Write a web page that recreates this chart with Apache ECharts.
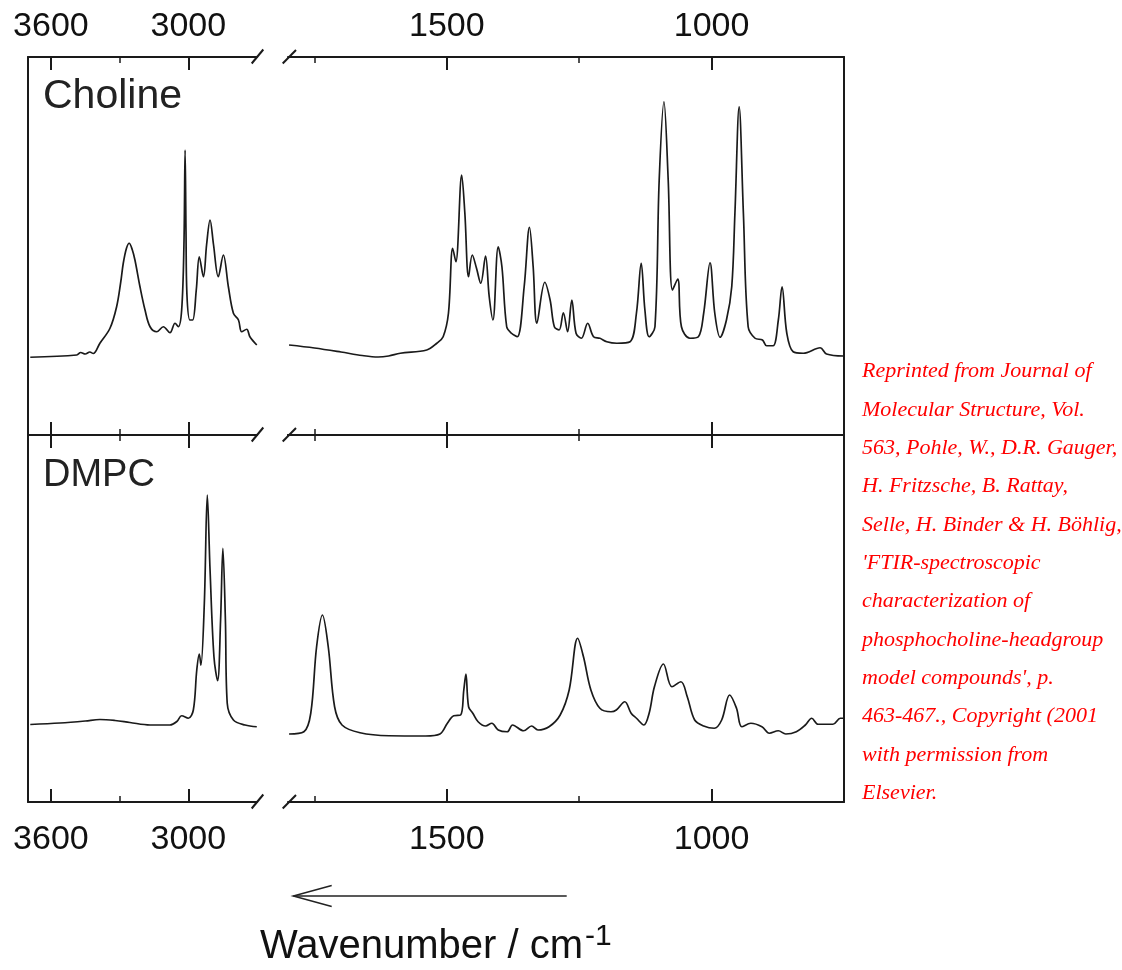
<!DOCTYPE html>
<html>
<head>
<meta charset="utf-8">
<script src="https://cdn.jsdelivr.net/npm/echarts@6/dist/echarts.min.js"></script>
<style>
html,body{margin:0;padding:0;background:#fff;}
#chart{width:1122px;height:970px;}
</style>
</head>
<body>
<div id="chart"></div>
<script>
// ---- Data (wavenumber cm-1, absorbance in arbitrary units) ----
const cholineHigh = [
  [3690,-0.001],[3487,0.008],[3470,0.018],[3450,0.012],[3430,0.02],[3415,0.014],[3386,0.055],
  [3342,0.115],[3313,0.201],[3295,0.3],[3284,0.375],[3270,0.435],[3258,0.455],[3245,0.43],
  [3233,0.388],[3211,0.281],[3189,0.188],[3167,0.121],[3138,0.101],[3109,0.121],[3080,0.097],
  [3058,0.135],[3044,0.121],[3029,0.188],[3019,0.45],[3014,0.828],[3010,0.5],[3006,0.25],
  [2993,0.148],[2981,0.148],[2965,0.27],[2952,0.401],[2934,0.321],[2920,0.45],[2905,0.548],
  [2890,0.45],[2869,0.321],[2847,0.408],[2825,0.281],[2803,0.175],[2781,0.148],[2767,0.101],
  [2745,0.111],[2731,0.081],[2701,0.048]
];
const cholineLow = [
  [1798,0.048],[1750,0.036],[1700,0.02],[1660,0.006],[1630,0.0],[1610,0.004],[1588,0.015],
  [1538,0.028],[1519,0.055],[1507,0.081],[1497,0.175],[1489,0.435],[1483,0.381],[1472,0.728],
  [1466,0.575],[1459,0.321],[1452,0.408],[1444,0.355],[1436,0.295],[1427,0.404],[1420,0.241],
  [1413,0.148],[1403,0.441],[1396,0.361],[1387,0.121],[1378,0.095],[1367,0.081],[1354,0.281],
  [1344,0.519],[1337,0.361],[1330,0.135],[1315,0.299],[1305,0.228],[1297,0.121],[1288,0.108],
  [1280,0.177],[1272,0.101],[1264,0.228],[1256,0.095],[1246,0.075],[1234,0.135],[1223,0.081],
  [1211,0.075],[1198,0.061],[1179,0.055],[1154,0.061],[1142,0.175],[1133,0.375],[1126,0.188],
  [1118,0.081],[1107,0.121],[1099,0.708],[1090,1.021],[1082,0.708],[1074,0.268],[1064,0.312],
  [1057,0.121],[1041,0.075],[1025,0.081],[1015,0.175],[1003,0.377],[994,0.175],[984,0.079],
  [972,0.148],[962,0.281],[956,0.575],[948,1.001],[940,0.575],[931,0.121],[918,0.075],
  [904,0.068],[896,0.045],[884,0.045],[874,0.148],[867,0.281],[858,0.095],[846,0.021],
  [827,0.015],[795,0.037],[783,0.012],[751,0.004]
];
const dmpcHigh = [
  [3690,-0.002],[3560,0.004],[3450,0.012],[3386,0.018],[3320,0.014],[3255,0.006],[3167,-0.004],
  [3080,-0.004],[3050,0.01],[3029,0.033],[3000,0.023],[2978,0.056],[2963,0.216],[2952,0.28],
  [2945,0.235],[2930,0.483],[2917,0.916],[2905,0.616],[2888,0.269],[2872,0.173],[2859,0.416],
  [2849,0.703],[2838,0.416],[2830,0.083],[2803,0.016],[2752,-0.004],[2701,-0.011]
];
const dmpcLow = [
  [1798,-0.04],[1770,-0.031],[1757,0.043],[1746,0.309],[1735,0.436],[1724,0.309],[1712,0.069],
  [1698,-0.004],[1664,-0.035],[1609,-0.047],[1540,-0.048],[1513,-0.04],[1499,0.003],[1487,0.033],
  [1474,0.036],[1468,0.136],[1464,0.2],[1459,0.069],[1451,0.043],[1441,0.009],[1427,-0.008],
  [1415,0.003],[1403,-0.024],[1386,-0.031],[1376,-0.004],[1355,-0.027],[1340,-0.008],[1328,-0.024],
  [1307,-0.011],[1286,0.036],[1269,0.136],[1253,0.343],[1242,0.269],[1228,0.136],[1211,0.063],
  [1190,0.049],[1180,0.056],[1164,0.089],[1152,0.043],[1142,0.023],[1128,-0.004],[1118,0.043],
  [1108,0.149],[1091,0.24],[1075,0.149],[1058,0.169],[1046,0.109],[1032,0.016],[1015,-0.008],
  [995,-0.017],[981,0.016],[966,0.116],[953,0.063],[943,-0.011],[926,0.003],[905,-0.011],
  [891,-0.037],[874,-0.027],[860,-0.04],[840,-0.031],[823,-0.004],[811,0.023],[799,-0.001],
  [771,-0.001],[757,0.023],[751,0.023]
];
const highMajorTicks = [3600, 3000];
const highMinorTicks = [3300];
const lowMajorTicks = [1500, 1000];
const lowMinorTicks = [1750, 1250];
const panelLabels = ['Choline', 'DMPC'];
const axisTitle = 'Wavenumber / cm';
const axisTitleSup = '-1';
const citationLines = [
  'Reprinted from Journal of',
  'Molecular Structure, Vol.',
  '563, Pohle, W., D.R. Gauger,',
  'H. Fritzsche, B. Rattay,',
  'Selle, H. Binder & H. Böhlig,',
  "'FTIR-spectroscopic",
  'characterization of',
  'phosphocholine-headgroup',
  "model compounds', p.",
  '463-467., Copyright (2001',
  'with permission from',
  'Elsevier.'
];

// ---- Layout ----
const L = 28, BL = 257, BR = 288, R = 844, T = 57, M = 435, B = 802;
const INK = '#1a1a1a';
const FONT = 'Liberation Sans';

const grids = [
  {left: L, top: T, width: BL - L, height: M - T},
  {left: BR, top: T, width: R - BR, height: M - T},
  {left: L, top: M, width: BL - L, height: B - M},
  {left: BR, top: M, width: R - BR, height: B - M}
];

function xAxes(g, min, max, majors, minors, topLabels, bottomLabels) {
  const base = {type: 'value', gridIndex: g, min: min, max: max, inverse: true,
    splitLine: {show: false}, minorTick: {show: false}};
  const line = {show: true, onZero: false, lineStyle: {color: INK, width: 2}};
  const noLine = {show: false, onZero: false};
  const lab = (show, margin) => ({show: show, customValues: majors, margin: margin,
    color: '#111', fontSize: 34, fontFamily: FONT, formatter: function (v) { return String(v); }});
  return [
    Object.assign({}, base, {position: 'top', axisLine: line,
      axisTick: {show: true, inside: true, length: 13, customValues: majors, lineStyle: {color: INK, width: 2}},
      axisLabel: lab(topLabels, 13)}),
    Object.assign({}, base, {position: 'top', axisLine: noLine,
      axisTick: {show: true, inside: true, length: 6, customValues: minors, lineStyle: {color: INK, width: 1.5}},
      axisLabel: {show: false}}),
    Object.assign({}, base, {position: 'bottom', axisLine: line,
      axisTick: {show: true, inside: true, length: 13, customValues: majors, lineStyle: {color: INK, width: 2}},
      axisLabel: lab(bottomLabels, 21)}),
    Object.assign({}, base, {position: 'bottom', axisLine: noLine,
      axisTick: {show: true, inside: true, length: 6, customValues: minors, lineStyle: {color: INK, width: 1.5}},
      axisLabel: {show: false}})
  ];
}

const xAxis = [].concat(
  xAxes(0, 2700, 3700, highMajorTicks, highMinorTicks, true, false),
  xAxes(1, 750, 1800, lowMajorTicks, lowMinorTicks, true, false),
  xAxes(2, 2700, 3700, highMajorTicks, highMinorTicks, false, true),
  xAxes(3, 750, 1800, lowMajorTicks, lowMinorTicks, false, true)
);

function yAxis(g, pos, min, max) {
  return {type: 'value', gridIndex: g, position: pos, min: min, max: max,
    axisLine: {show: true, onZero: false, lineStyle: {color: INK, width: 2}},
    axisTick: {show: false}, axisLabel: {show: false}, splitLine: {show: false}};
}
const yAxes = [
  yAxis(0, 'left', -0.312, 1.2),
  yAxis(1, 'right', -0.312, 1.2),
  yAxis(2, 'left', -0.312, 1.156),
  yAxis(3, 'right', -0.312, 1.156)
];

function spectrum(g, data) {
  return {type: 'line', xAxisIndex: g * 4, yAxisIndex: g, data: data,
    showSymbol: false, smooth: 0.35,
    lineStyle: {color: INK, width: 1.7}, silent: true};
}

// break marks
const graphics = [];
[T, M, B].forEach(function (y) {
  graphics.push({type: 'line', shape: {x1: 251.7, y1: y + 6.5, x2: 263.3, y2: y - 7.5},
    style: {stroke: INK, lineWidth: 2}});
  graphics.push({type: 'line', shape: {x1: 282.7, y1: y + 6.5, x2: 296, y2: y - 7},
    style: {stroke: INK, lineWidth: 2}});
});
// panel labels
graphics.push({type: 'text', x: 43, y: 97, style: {text: panelLabels[0], font: '41px ' + FONT,
  fill: '#222', verticalAlign: 'middle', align: 'left'}});
graphics.push({type: 'text', x: 43, y: 476, style: {text: panelLabels[1], font: '38px ' + FONT,
  fill: '#222', verticalAlign: 'middle', align: 'left'}});
// direction arrow
graphics.push({type: 'polyline', shape: {points: [[566.7, 896], [293.3, 896]]},
  style: {stroke: '#222', lineWidth: 1.5, fill: null}});
graphics.push({type: 'polyline', shape: {points: [[331.7, 885.5], [293.3, 896], [331.7, 906.5]]},
  style: {stroke: '#222', lineWidth: 1.5, fill: null}});
// axis title
graphics.push({type: 'text', x: 260, y: 946.5, style: {text: axisTitle, font: '40px ' + FONT,
  fill: '#111', verticalAlign: 'middle', align: 'left'}});
graphics.push({type: 'text', x: 585, y: 936.5, style: {text: axisTitleSup, font: '30px ' + FONT,
  fill: '#111', verticalAlign: 'middle', align: 'left'}});
// citation
citationLines.forEach(function (t, i) {
  graphics.push({type: 'text', x: 862, y: 371.7 + i * 38.33, style: {text: t,
    font: 'italic 22px "Liberation Serif"', fill: '#ff0000', verticalAlign: 'middle', align: 'left'}});
});

const chart = echarts.init(document.getElementById('chart'), null, {renderer: 'canvas'});
chart.setOption({
  animation: false,
  backgroundColor: '#ffffff',
  grid: grids,
  xAxis: xAxis,
  yAxis: yAxes,
  series: [
    spectrum(0, cholineHigh),
    spectrum(1, cholineLow),
    spectrum(2, dmpcHigh),
    spectrum(3, dmpcLow)
  ],
  graphic: graphics
});
</script>
</body>
</html>
